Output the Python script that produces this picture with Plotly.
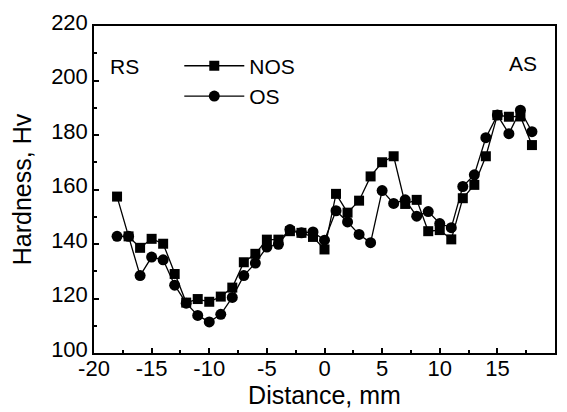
import plotly.graph_objects as go

distance = [-18, -17, -16, -15, -14, -13, -12, -11, -10, -9, -8, -7, -6, -5, -4, -3, -2, -1,
            0, 1, 2, 3, 4, 5, 6, 7, 8, 9, 10, 11, 12, 13, 14, 15, 16, 17, 18]

nos = [157.4, 142.8, 138.6, 141.9, 140.1, 129.0, 118.5, 119.8, 118.8, 120.7, 124.0, 133.3,
       136.4, 141.6, 141.6, 144.7, 144.1, 142.6, 138.0, 158.4, 151.5, 155.9, 164.8, 170.0,
       172.2, 154.7, 156.2, 144.7, 145.1, 141.7, 156.8, 161.7, 172.2, 187.3, 186.7, 186.8, 176.3]

os_vals = [142.8, 142.8, 128.4, 135.2, 134.2, 124.9, 118.3, 113.8, 111.4, 114.2, 120.4, 128.4,
           133.0, 138.9, 139.9, 145.3, 144.1, 144.4, 141.4, 152.2, 148.1, 143.5, 140.5, 159.6,
           154.9, 156.2, 150.2, 151.9, 147.5, 146.0, 161.1, 165.4, 179.0, 187.3, 180.5, 189.1, 181.2]

x_ticks = [-20, -15, -10, -5, 0, 5, 10, 15, 20]
x_labels = ['-20', '-15', '-10', '-5', '0', '5', '10', '15', '20']

FONT = "Liberation Sans, Arial, sans-serif"

fig = go.Figure()
fig.add_trace(go.Scatter(x=distance, y=nos, mode='lines+markers', name='NOS',
                         line=dict(color='black', width=1.3),
                         marker=dict(symbol='square', size=10, color='black')))
fig.add_trace(go.Scatter(x=distance, y=os_vals, mode='lines+markers', name='OS',
                         line=dict(color='black', width=1.3),
                         marker=dict(symbol='circle', size=11, color='black')))

# side labels
fig.add_annotation(x=0.066, y=0.875, xref='paper', yref='paper', text='RS', showarrow=False,
                   xanchor='center', yanchor='middle', font=dict(size=21, color='black'))
fig.add_annotation(x=0.931, y=0.885, xref='paper', yref='paper', text='AS', showarrow=False,
                   xanchor='center', yanchor='middle', font=dict(size=21, color='black'))

axis_style = dict(showline=True, linecolor='black', linewidth=1.5, mirror=True,
                  ticks='inside', ticklen=5, tickwidth=1.5, tickcolor='black',
                  showgrid=False, zeroline=False, automargin=False,
                  tickfont=dict(size=22, color='black'))

fig.update_xaxes(range=[-20, 20], tickvals=x_ticks, ticktext=x_labels,
                 title=dict(text='Distance, mm', standoff=0), ticklabelstandoff=-5,
                 minor=dict(dtick=2.5, ticks='inside', ticklen=3, tickcolor='black', tickwidth=1.5),
                 **axis_style)
fig.update_yaxes(range=[100, 220], dtick=20, title=dict(text='Hardness, Hv', standoff=13),
                 ticklabelshift=-4,
                 minor=dict(dtick=10, ticks='inside', ticklen=3, tickcolor='black', tickwidth=1.5),
                 **axis_style)

# page body has an 8px margin, so the figure is a bit smaller than the window
fig.update_layout(
    width=559, height=404,
    margin=dict(l=86, r=12, t=18, b=59),
    paper_bgcolor='white', plot_bgcolor='white',
    font=dict(family=FONT, size=21, color='black'),
    legend=dict(x=0.185, y=0.94, xanchor='left', yanchor='top', bgcolor='rgba(0,0,0,0)',
                font=dict(size=21), tracegroupgap=0, itemwidth=60),
)

fig.write_html("out.html")
